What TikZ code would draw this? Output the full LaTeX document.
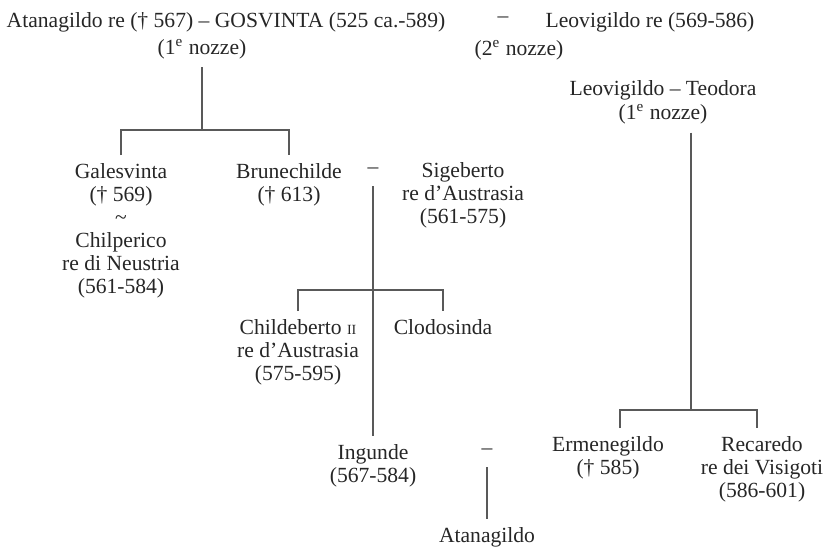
\documentclass[tikz,border=0pt]{standalone}
\usepackage{fontspec}
\setmainfont{Liberation Serif}
\usetikzlibrary{positioning}

\begin{document}
\begin{tikzpicture}[
    x=0.5pt, y=-0.5pt,
    font=\fontsize{10.8}{11.5}\selectfont,
    % Stili dei nodi
    person/.style={align=center, anchor=north, inner xsep=1pt, inner ysep=4pt, text=black!85},
    note/.style={align=center, inner xsep=1pt, inner ysep=4pt, text=black!85},
    marr/.style={inner xsep=1pt, inner ysep=6pt, text=black!85},
    % Stili delle linee
    branch/.style={draw=black!65, line width=0.8pt}
]
\useasboundingbox (0,0) rectangle (829,547);

% 1. Prima riga: Gosvinta e i due matrimoni
\node[note] (atan) at (226,22) {Atanagildo re († 567) – GOSVINTA (525 ca.-589)};
\node[note] (nozzeA) at (202,49) {(1\textsuperscript{e} nozze)};
\node[note] (dashB) at (503,20) {–};
\node[note] (nozzeB) at (519,50) {(2\textsuperscript{e} nozze)};
\node[note] (leo) at (650,22) {Leovigildo re (569-586)};
\node[note] (leoteo) at (663,90) {Leovigildo – Teodora};
\node[note, below=-6pt of leoteo] (nozzeC) {(1\textsuperscript{e} nozze)};

% 2. Figlie di Atanagildo e Gosvinta
\node[person] (gales) at (121,155) {Galesvinta\\(† 569)\\\textasciitilde\\Chilperico\\re di Neustria\\(561-584)};
\node[person] (brun) at (289,155) {Brunechilde\\(† 613)};
\node[marr] (dashC) at (373,171) {–};
\node[person] (sig) at (463,154) {Sigeberto\\re d’Austrasia\\(561-575)};

\coordinate (jA) at (202,130);
\draw[branch] (nozzeA.south) -- (jA);
\draw[branch] (gales.north) -- (gales.north |- jA) -- (brun.north |- jA) -- (brun.north);

% 3. Figli di Brunechilde e Sigeberto
\node[person] (child) at (298,311) {Childeberto {\scriptsize II}\\re d’Austrasia\\(575-595)};
\node[person] (clodo) at (443,311) {Clodosinda};
\node[person] (ingu) at (373,436) {Ingunde\\(567-584)};
\node[marr] (dashD) at (487,452) {–};
\node[note] (atan2) at (487,537) {Atanagildo};

\coordinate (jB) at (373,290);
\draw[branch] (dashC.south) -- (ingu.north);
\draw[branch] (child.north) -- (child.north |- jB) -- (clodo.north |- jB) -- (clodo.north);
\draw[branch] (dashD.south) -- (atan2.north);

% 4. Figli di Leovigildo e Teodora
\node[person] (erme) at (608,428) {Ermenegildo\\(† 585)};
\node[person] (reca) at (762,428) {Recaredo\\re dei Visigoti\\(586-601)};

\coordinate (jC) at (691,410);
\coordinate (jCl) at (620,410);
\coordinate (jCr) at (757,410);
\draw[branch] (nozzeC.south -| jC) -- (jC);
\draw[branch] (erme.north -| jCl) -- (jCl) -- (jCr) -- (reca.north -| jCr);

\end{tikzpicture}
\end{document}
